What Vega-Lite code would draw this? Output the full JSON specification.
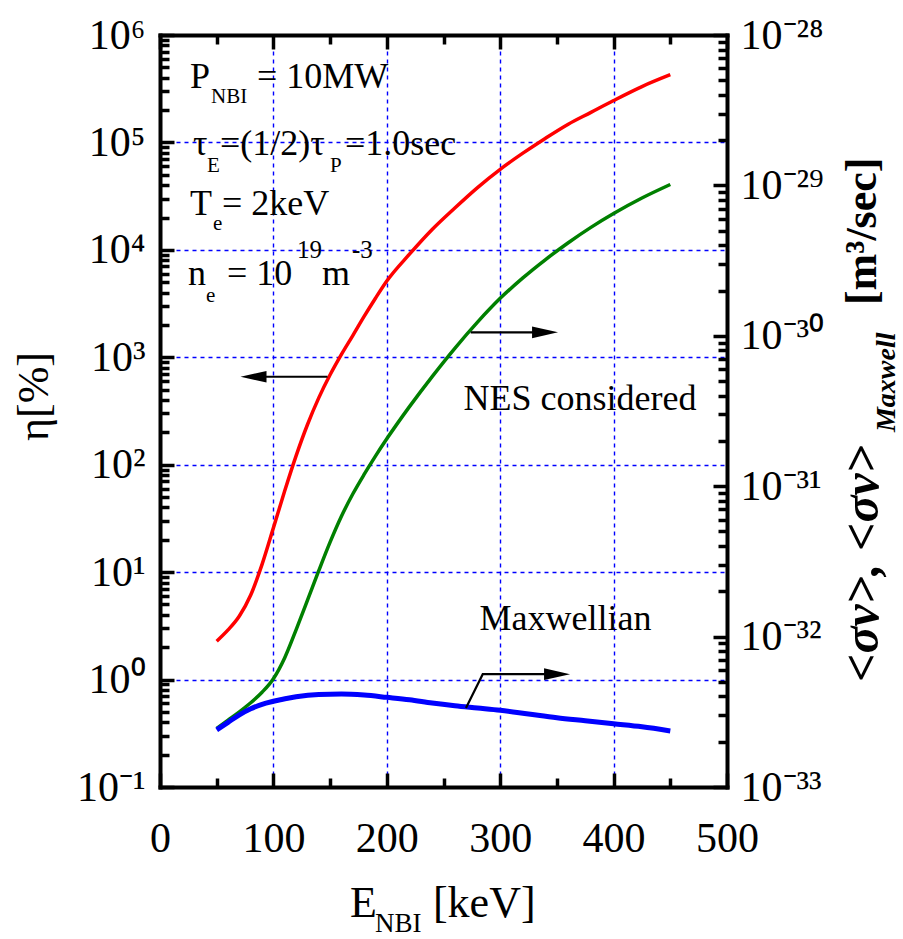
{
  "$schema": "https://vega.github.io/schema/vega-lite/v6.json",
  "width": 567,
  "height": 752,
  "autosize": {"type": "none"},
  "padding": {"left": 160, "top": 35, "right": 176, "bottom": 152},
  "background": "white",
  "config": {"view": {"stroke": null}, "font": "Liberation Serif, Times New Roman, serif"},
  "datasets": {
    "red": [
      {"E": 50, "v": 2.275}, {"E": 60, "v": 2.897}, {"E": 70, "v": 3.908}, {"E": 80, "v": 6.124},
      {"E": 90, "v": 11.8}, {"E": 100, "v": 25.82}, {"E": 110, "v": 57.15}, {"E": 120, "v": 120.8},
      {"E": 130, "v": 235.5}, {"E": 140, "v": 418.8}, {"E": 150, "v": 687.1}, {"E": 160, "v": 1064},
      {"E": 170, "v": 1592}, {"E": 180, "v": 2399}, {"E": 190, "v": 3548}, {"E": 200, "v": 5129},
      {"E": 220, "v": 9120}, {"E": 240, "v": 15490}, {"E": 260, "v": 24550}, {"E": 280, "v": 38020},
      {"E": 300, "v": 56230}, {"E": 320, "v": 79430}, {"E": 340, "v": 109600}, {"E": 360, "v": 147900},
      {"E": 380, "v": 190500}, {"E": 400, "v": 245500}, {"E": 425, "v": 331100}, {"E": 450, "v": 426600}
    ],
    "rates": [
      {"E": 50, "v": 2.455e-33, "s": "NES"}, {"E": 60, "v": 2.786e-33, "s": "NES"}, {"E": 70, "v": 3.162e-33, "s": "NES"},
      {"E": 80, "v": 3.631e-33, "s": "NES"}, {"E": 90, "v": 4.266e-33, "s": "NES"}, {"E": 100, "v": 5.248e-33, "s": "NES"},
      {"E": 110, "v": 7.244e-33, "s": "NES"}, {"E": 120, "v": 1.109e-32, "s": "NES"}, {"E": 130, "v": 1.738e-32, "s": "NES"},
      {"E": 140, "v": 2.742e-32, "s": "NES"}, {"E": 150, "v": 4.246e-32, "s": "NES"}, {"E": 160, "v": 6.31e-32, "s": "NES"},
      {"E": 170, "v": 8.872e-32, "s": "NES"}, {"E": 180, "v": 1.197e-31, "s": "NES"}, {"E": 190, "v": 1.585e-31, "s": "NES"},
      {"E": 200, "v": 2.065e-31, "s": "NES"}, {"E": 220, "v": 3.381e-31, "s": "NES"}, {"E": 240, "v": 5.358e-31, "s": "NES"},
      {"E": 260, "v": 8.26e-31, "s": "NES"}, {"E": 280, "v": 1.233e-30, "s": "NES"}, {"E": 300, "v": 1.774e-30, "s": "NES"},
      {"E": 320, "v": 2.427e-30, "s": "NES"}, {"E": 340, "v": 3.214e-30, "s": "NES"}, {"E": 360, "v": 4.159e-30, "s": "NES"},
      {"E": 380, "v": 5.26e-30, "s": "NES"}, {"E": 400, "v": 6.501e-30, "s": "NES"}, {"E": 425, "v": 8.241e-30, "s": "NES"},
      {"E": 450, "v": 1.014e-29, "s": "NES"},
      {"E": 50, "v": 2.399e-33, "s": "Maxwell"}, {"E": 60, "v": 2.692e-33, "s": "Maxwell"}, {"E": 70, "v": 3.02e-33, "s": "Maxwell"},
      {"E": 80, "v": 3.311e-33, "s": "Maxwell"}, {"E": 90, "v": 3.548e-33, "s": "Maxwell"}, {"E": 100, "v": 3.715e-33, "s": "Maxwell"},
      {"E": 120, "v": 3.981e-33, "s": "Maxwell"}, {"E": 140, "v": 4.121e-33, "s": "Maxwell"}, {"E": 160, "v": 4.15e-33, "s": "Maxwell"},
      {"E": 180, "v": 4.083e-33, "s": "Maxwell"}, {"E": 200, "v": 3.945e-33, "s": "Maxwell"}, {"E": 220, "v": 3.802e-33, "s": "Maxwell"},
      {"E": 240, "v": 3.614e-33, "s": "Maxwell"}, {"E": 260, "v": 3.467e-33, "s": "Maxwell"}, {"E": 280, "v": 3.35e-33, "s": "Maxwell"},
      {"E": 300, "v": 3.236e-33, "s": "Maxwell"}, {"E": 325, "v": 3.055e-33, "s": "Maxwell"}, {"E": 350, "v": 2.884e-33, "s": "Maxwell"},
      {"E": 375, "v": 2.754e-33, "s": "Maxwell"}, {"E": 400, "v": 2.63e-33, "s": "Maxwell"}, {"E": 425, "v": 2.512e-33, "s": "Maxwell"},
      {"E": 450, "v": 2.36e-33, "s": "Maxwell"}
    ],
    "arrowLeftLine": [
      {"E": 147.7, "v": 659, "id": "r", "o": 1}, {"E": 85, "v": 659, "id": "r", "o": 2}
    ],
    "arrowLeftHead": [{"E": 71, "v": 659}],
    "arrowRightLine": [
      {"E": 274, "v": 1.054e-30, "id": "g", "o": 1}, {"E": 340, "v": 1.054e-30, "id": "g", "o": 2},
      {"E": 269.8, "v": 3.357e-33, "id": "b", "o": 1}, {"E": 284.6, "v": 5.623e-33, "id": "b", "o": 2},
      {"E": 350, "v": 5.623e-33, "id": "b", "o": 3}
    ],
    "arrowRightHead": [{"E": 351, "v": 1.054e-30}, {"E": 361.6, "v": 5.623e-33}],
    "notes": [
      {"E": 26.5, "v": 321000, "t": "P", "k": "big"},
      {"E": 85.5, "v": 321000, "t": "= 10MW", "k": "big"},
      {"E": 29.1, "v": 76400, "t": "τ", "k": "big"},
      {"E": 52.9, "v": 76400, "t": "=(1/2)τ", "k": "big"},
      {"E": 163.1, "v": 76400, "t": "=1.0sec", "k": "big"},
      {"E": 26.5, "v": 21100, "t": "T", "k": "big"},
      {"E": 54.7, "v": 21100, "t": "= 2keV", "k": "big"},
      {"E": 24.7, "v": 4710, "t": "n", "k": "big"},
      {"E": 59.1, "v": 4710, "t": "= 10", "k": "big"},
      {"E": 142.9, "v": 4710, "t": "m", "k": "big"},
      {"E": 45, "v": 233000, "t": "NBI", "k": "sub"},
      {"E": 41.4, "v": 53100, "t": "E", "k": "sub"},
      {"E": 149.9, "v": 53100, "t": "P", "k": "sub"},
      {"E": 46.7, "v": 15300, "t": "e", "k": "sub"},
      {"E": 40.6, "v": 3270, "t": "e", "k": "sub"},
      {"E": 120.8, "v": 8390, "t": "19", "k": "sup"},
      {"E": 169.3, "v": 8390, "t": "-3", "k": "sup"},
      {"E": 167.5, "v": 0.0061, "t": "E", "k": "title"},
      {"E": 240.7, "v": 0.0061, "t": "[keV]", "k": "title"},
      {"E": 189.6, "v": 0.0045, "t": "NBI", "k": "titlesub"}
    ],
    "labels": [
      {"E": 370.4, "v": 323, "t": "NES considered"},
      {"E": 357.6, "v": 2.894, "t": "Maxwellian"}
    ],
    "rightTitle": [
      {"E": 619.9, "v": 4.99e-33, "t": "<σv>, <σv>", "k": "main"},
      {"E": 641.1, "v": 2.29e-31, "t": "Maxwell", "k": "sub"},
      {"E": 619.9, "v": 1.6e-30, "t": "[m³/sec]", "k": "unit"}
    ]
  },
  "layer": [
    {
      "encoding": {
        "x": {
          "field": "E", "type": "quantitative", "title": null,
          "scale": {"domain": [0, 500], "nice": false, "zero": false},
          "axis": {
            "orient": "bottom",
            "values": [0, 50, 100, 150, 200, 250, 300, 350, 400, 450, 500],
            "format": "d",
            "labelExpr": "datum.value % 100 === 0 ? datum.label : ''",
            "labelFont": "Liberation Serif, Times New Roman, serif", "labelFontSize": 42, "labelColor": "black",
            "labelPadding": 45, "labelFlush": false, "labelOverlap": false,
            "tickSize": {"condition": {"test": "datum.value % 100 === 0", "value": -14}, "value": -9},
            "tickWidth": 3.5, "tickColor": "black",
            "domainColor": "black", "domainWidth": 4, "domainCap": "square",
            "grid": true, "gridColor": "#0000ff", "gridDash": [4, 4], "gridWidth": 1.4,
            "gridOpacity": {"condition": {"test": "datum.value % 100 === 0", "value": 1}, "value": 0}
          }
        },
        "y": {
          "field": "v", "type": "quantitative",
          "scale": {"type": "log", "domain": [0.1, 1000000], "nice": false},
          "axis": {
            "orient": "left",
            "title": "η[%]",
            "titleFont": "Liberation Serif, Times New Roman, serif", "titleFontSize": 44, "titleFontWeight": "normal", "titleColor": "black",
            "titleAngle": 270, "titleAlign": "center", "titleBaseline": "middle", "titleX": -126, "titleY": 361,
            "values": [0.1, 0.2, 0.3, 0.4, 0.5, 0.6, 0.7, 0.8, 0.9, 1, 2, 3, 4, 5, 6, 7, 8, 9, 10, 20, 30, 40, 50, 60, 70, 80, 90, 100, 200, 300, 400, 500, 600, 700, 800, 900, 1000, 2000, 3000, 4000, 5000, 6000, 7000, 8000, 9000, 10000, 20000, 30000, 40000, 50000, 60000, 70000, 80000, 90000, 100000, 200000, 300000, 400000, 500000, 600000, 700000, 800000, 900000, 1000000],
            "labelExpr": "abs(log(datum.value)/LN10 - round(log(datum.value)/LN10)) > 0.01 ? '' : ['10⁻¹','10⁰','10¹','10²','10³','10⁴','10⁵','10⁶'][round(log(datum.value)/LN10)+1]",
            "labelFont": "Liberation Serif, Times New Roman, serif", "labelFontSize": 42, "labelColor": "black",
            "labelPadding": 29, "labelFlush": false, "labelOverlap": false,
            "tickSize": {"condition": {"test": "abs(log(datum.value)/LN10 - round(log(datum.value)/LN10)) < 0.01", "value": -14}, "value": -9},
            "tickWidth": 3.5, "tickColor": "black",
            "domainColor": "black", "domainWidth": 4, "domainCap": "square",
            "grid": true, "gridColor": "#0000ff", "gridDash": [4, 4], "gridWidth": 1.4,
            "gridOpacity": {"condition": {"test": "abs(log(datum.value)/LN10 - round(log(datum.value)/LN10)) < 0.01", "value": 1}, "value": 0}
          }
        }
      },
      "layer": [
        {
          "data": {"name": "red"},
          "mark": {"type": "line", "color": "#ff0000", "strokeWidth": 3.5, "interpolate": "monotone"}
        },
        {
          "data": {"name": "arrowLeftLine"},
          "mark": {"type": "line", "color": "black", "strokeWidth": 2.2},
          "encoding": {"detail": {"field": "id"}, "order": {"field": "o"}}
        },
        {
          "data": {"name": "arrowLeftHead"},
          "mark": {"type": "point", "filled": true, "color": "black", "opacity": 1, "size": 676, "shape": "M0,0L2,-0.45L2,0.45Z"}
        },
        {
          "data": {"name": "notes"},
          "transform": [{"filter": "datum.k === 'big'"}],
          "mark": {"type": "text", "align": "left", "baseline": "alphabetic", "fontSize": 36, "color": "black"},
          "encoding": {"text": {"field": "t"}}
        },
        {
          "data": {"name": "notes"},
          "transform": [{"filter": "datum.k === 'sub'"}],
          "mark": {"type": "text", "align": "left", "baseline": "alphabetic", "fontSize": 21, "color": "black"},
          "encoding": {"text": {"field": "t"}}
        },
        {
          "data": {"name": "notes"},
          "transform": [{"filter": "datum.k === 'sup'"}],
          "mark": {"type": "text", "align": "left", "baseline": "alphabetic", "fontSize": 25, "color": "black"},
          "encoding": {"text": {"field": "t"}}
        },
        {
          "data": {"name": "notes"},
          "transform": [{"filter": "datum.k === 'title'"}],
          "mark": {"type": "text", "align": "left", "baseline": "alphabetic", "fontSize": 44, "color": "black"},
          "encoding": {"text": {"field": "t"}}
        },
        {
          "data": {"name": "notes"},
          "transform": [{"filter": "datum.k === 'titlesub'"}],
          "mark": {"type": "text", "align": "left", "baseline": "alphabetic", "fontSize": 27, "color": "black"},
          "encoding": {"text": {"field": "t"}}
        },
        {
          "data": {"name": "labels"},
          "mark": {"type": "text", "align": "center", "baseline": "alphabetic", "fontSize": 36, "color": "black"},
          "encoding": {"text": {"field": "t"}}
        }
      ]
    },
    {
      "encoding": {
        "x": {
          "field": "E", "type": "quantitative", "title": null,
          "scale": {"domain": [0, 500], "nice": false, "zero": false},
          "axis": {
            "orient": "top",
            "values": [0, 50, 100, 150, 200, 250, 300, 350, 400, 450, 500],
            "labels": false,
            "tickSize": {"condition": {"test": "datum.value % 100 === 0", "value": -14}, "value": -9},
            "tickWidth": 3.5, "tickColor": "black",
            "domainColor": "black", "domainWidth": 4, "domainCap": "square",
            "grid": false
          }
        },
        "y": {
          "field": "v", "type": "quantitative", "title": null,
          "scale": {"type": "log", "domain": [1e-33, 1e-28], "nice": false},
          "axis": {
            "orient": "right",
            "values": [1e-33, 2e-33, 3e-33, 4e-33, 5e-33, 6e-33, 7e-33, 8e-33, 9e-33, 1e-32, 2e-32, 3e-32, 4e-32, 5e-32, 6e-32, 7e-32, 8e-32, 9e-32, 1e-31, 2e-31, 3e-31, 4e-31, 5e-31, 6e-31, 7e-31, 8e-31, 9e-31, 1e-30, 2e-30, 3e-30, 4e-30, 5e-30, 6e-30, 7e-30, 8e-30, 9e-30, 1e-29, 2e-29, 3e-29, 4e-29, 5e-29, 6e-29, 7e-29, 8e-29, 9e-29, 1e-28],
            "labelExpr": "abs(log(datum.value)/LN10 - round(log(datum.value)/LN10)) > 0.01 ? '' : ['10⁻³³','10⁻³²','10⁻³¹','10⁻³⁰','10⁻²⁹','10⁻²⁸'][round(log(datum.value)/LN10)+33]",
            "labelFont": "Liberation Serif, Times New Roman, serif", "labelFontSize": 42, "labelColor": "black",
            "labelPadding": 27, "labelFlush": false, "labelOverlap": false,
            "tickSize": {"condition": {"test": "abs(log(datum.value)/LN10 - round(log(datum.value)/LN10)) < 0.01", "value": -14}, "value": -9},
            "tickWidth": 3.5, "tickColor": "black",
            "domainColor": "black", "domainWidth": 4, "domainCap": "square",
            "grid": false
          }
        }
      },
      "layer": [
        {
          "data": {"name": "rates"},
          "transform": [{"filter": "datum.s === 'NES'"}],
          "mark": {"type": "line", "color": "#008000", "strokeWidth": 3.5, "interpolate": "monotone"}
        },
        {
          "data": {"name": "rates"},
          "transform": [{"filter": "datum.s === 'Maxwell'"}],
          "mark": {"type": "line", "color": "#0000ff", "strokeWidth": 5, "interpolate": "monotone"}
        },
        {
          "data": {"name": "arrowRightLine"},
          "mark": {"type": "line", "color": "black", "strokeWidth": 2.2},
          "encoding": {"detail": {"field": "id"}, "order": {"field": "o"}}
        },
        {
          "data": {"name": "arrowRightHead"},
          "mark": {"type": "point", "filled": true, "color": "black", "opacity": 1, "size": 676, "shape": "M0,0L-2,-0.45L-2,0.45Z"}
        },
        {
          "data": {"name": "rightTitle"},
          "transform": [{"filter": "datum.k === 'main'"}],
          "mark": {"type": "text", "angle": 270, "align": "left", "baseline": "middle", "fontSize": 50, "fontWeight": "bold", "fontStyle": "italic", "color": "black"},
          "encoding": {"text": {"field": "t"}}
        },
        {
          "data": {"name": "rightTitle"},
          "transform": [{"filter": "datum.k === 'sub'"}],
          "mark": {"type": "text", "angle": 270, "align": "left", "baseline": "middle", "fontSize": 28, "fontWeight": "bold", "fontStyle": "italic", "color": "black"},
          "encoding": {"text": {"field": "t"}}
        },
        {
          "data": {"name": "rightTitle"},
          "transform": [{"filter": "datum.k === 'unit'"}],
          "mark": {"type": "text", "angle": 270, "align": "left", "baseline": "middle", "fontSize": 44, "fontWeight": "bold", "color": "black"},
          "encoding": {"text": {"field": "t"}}
        }
      ]
    }
  ],
  "resolve": {"scale": {"y": "independent"}, "axis": {"x": "independent", "y": "independent"}}
}
